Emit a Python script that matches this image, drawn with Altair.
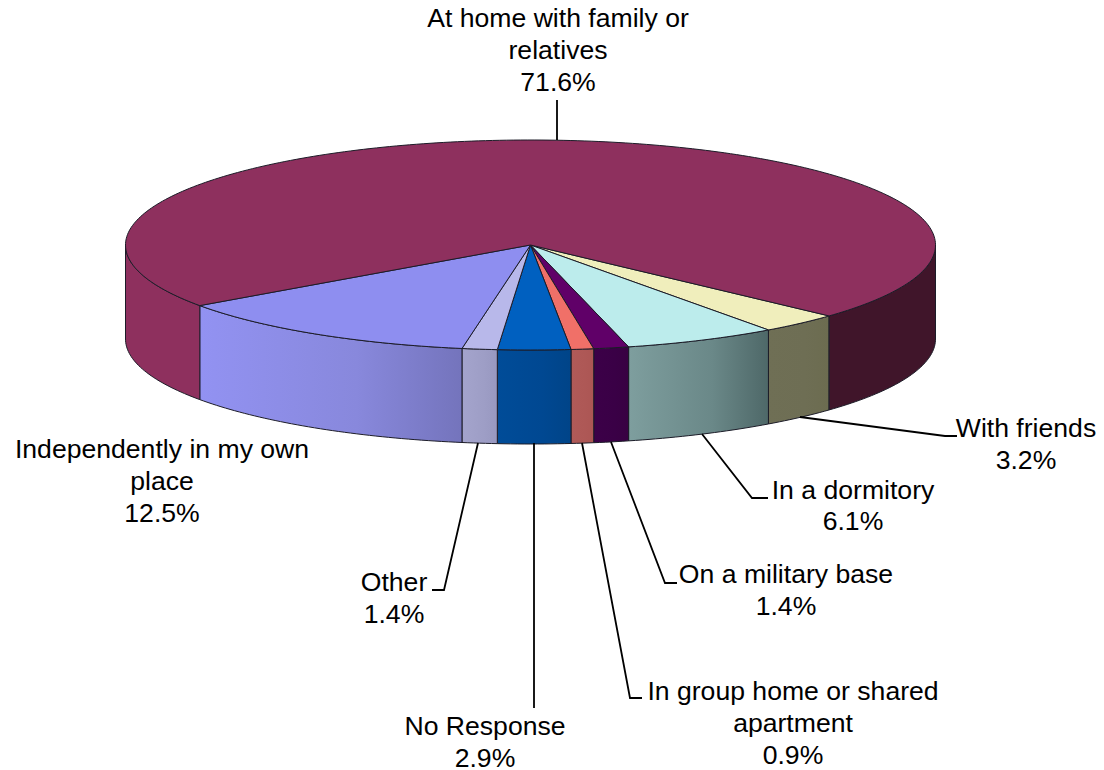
import math
import altair as alt
import pandas as pd

# Slices, clockwise from the right-hand edge of "With friends"
names = ["With friends", "In a dormitory", "On a military base", "In group home or shared apartment",
         "No Response", "Other", "Independently in my own place", "At home with family or relatives"]
shares = [3.2, 6.1, 1.4, 0.9, 2.9, 1.4, 12.5, 71.6]
top_colors = ["#f0eebc", "#bcecec", "#600068", "#f07068", "#0060c0", "#b8b8ea", "#8e8ef0", "#8e305e"]
side_left = ["#6f6f55", "#7e9e9e", "#3c0048", "#b05a58", "#004c98", "#a4a4cc", "#9292f2", "#8e305e"]
side_mid = ["#6e6e54", "#6a8888", "#3a0046", "#ae5856", "#004892", "#9e9ec6", "#8888dc", "#8e305e"]
side_right = ["#6c6c50", "#4e6868", "#380042", "#ac5654", "#004488", "#9898c0", "#7474bc", "#40152a"]

# Label rows
label_rows = ["At home with family or", "relatives", "71.6%",
              "With friends", "3.2%", "In a dormitory", "6.1%",
              "On a military base", "1.4%",
              "In group home or shared", "apartment", "0.9%",
              "No Response", "2.9%", "Other", "1.4%",
              "Independently in my own", "place", "12.5%"]
label_x = [558, 558, 558, 1026, 1026, 853, 853, 786, 786, 793, 793, 793, 485, 485, 394, 394, 162, 162, 162]
label_y = [19, 51, 83, 429, 461, 491, 522, 575, 607, 692, 724, 756, 727, 759, 583, 615, 450, 482, 514]

# Leader polylines
leaders = [
    [(557, 140), (557, 100)],
    [(800, 417), (945, 436), (957, 436)],
    [(702, 434), (752, 498), (768, 498)],
    [(611, 442), (665, 583), (677, 583)],
    [(582, 443), (630, 698), (642, 698)],
    [(534, 443), (534, 708)],
    [(478, 443), (444, 590), (432, 590)],
]

# Pie geometry
CX, CY, RX, RY, DEPTH = 530.5, 245.0, 405.0, 105.0, 94.0
START = 42.5
W, H = 1088, 754


def sx():
    return alt.X("x:Q", axis=None, scale=alt.Scale(domain=[8, 8 + W], nice=False, zero=False))


def sy():
    return alt.Y("y:Q", axis=None, scale=alt.Scale(domain=[8 + H, 8], nice=False, zero=False))


def pt(deg, dy=0.0):
    r = math.radians(deg)
    return CX + RX * math.cos(r), CY + RY * math.sin(r) + dy


def arc(a0, a1, dy=0.0):
    n = max(2, int(abs(a1 - a0) / 1.0) + 1)
    return [pt(a0 + (a1 - a0) * i / n, dy) for i in range(n + 1)]


def poly(points, fill, sw=1.0, stroke="#1c1c28"):
    df = pd.DataFrame([{"x": p[0], "y": p[1], "i": i} for i, p in enumerate(points)])
    return alt.Chart(df).mark_line(fill=fill, stroke=stroke, strokeWidth=sw, strokeJoin="round").encode(
        x=sx(), y=sy(), order=alt.Order("i:Q"))


layers = []
bounds = [START]
for s in shares:
    bounds.append(bounds[-1] + s * 3.6)

# Side walls (only where the rim faces the viewer)
for k in range(len(shares)):
    a0, a1 = bounds[k], bounds[k + 1]
    if k == len(shares) - 1:
        segs = [(a0, 180.0, side_left[k], side_left[k], side_left[k]),
                (360.0, a1, side_right[k], side_right[k], side_right[k])]
    else:
        segs = [(a0, a1, side_right[k], side_mid[k], side_left[k])]
    for (p0, p1, c_r, c_m, c_l) in segs:
        pts = arc(p0, p1) + arc(p1, p0, DEPTH)
        pts.append(pts[0])
        fill = alt.Gradient(gradient="linear", x1=0, x2=1, y1=0, y2=0,
                            stops=[alt.GradientStop(color=c_l, offset=0),
                                   alt.GradientStop(color=c_m, offset=0.6),
                                   alt.GradientStop(color=c_r, offset=1)])
        layers.append(poly(pts, fill))

# Top face
for k in range(len(shares)):
    pts = [(CX, CY)] + arc(bounds[k], bounds[k + 1]) + [(CX, CY)]
    layers.append(poly(pts, top_colors[k]))

# Leaders
ldf = pd.DataFrame([{"x": p[0], "y": p[1], "i": i, "g": g}
                    for g, line in enumerate(leaders) for i, p in enumerate(line)])
layers.append(alt.Chart(ldf).mark_line(color="#000000", strokeWidth=1.8).encode(
    x=sx(), y=sy(), detail="g:N", order=alt.Order("i:Q")))

# Labels
tdf = pd.DataFrame({"x": label_x, "y": label_y, "t": label_rows})
layers.append(alt.Chart(tdf).mark_text(font="Liberation Sans", fontSize=26.6, color="#000000",
                                       align="center", baseline="middle").encode(
    x=sx(), y=sy(), text="t:N"))

chart = alt.layer(*layers).properties(
    width=W, height=H, padding={"left": 0, "top": 0, "right": 0, "bottom": 8},
    autosize=alt.AutoSizeParams(type="none"), background="white"
).configure_view(stroke=None)

chart.save("out.html", embed_options={"renderer": "svg", "actions": False})
